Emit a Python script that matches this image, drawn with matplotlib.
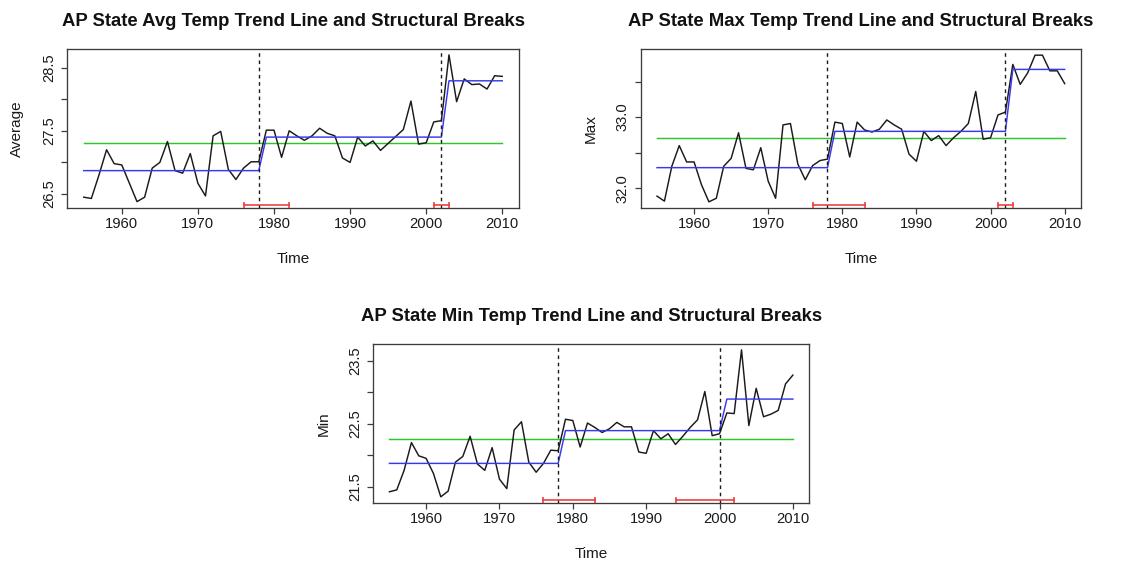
import matplotlib
matplotlib.use("Agg")
import matplotlib.pyplot as plt
import numpy as np

plt.rcParams['font.family'] = ['Liberation Sans', 'DejaVu Sans']

years = list(range(1955, 2011))

avg_values = [26.45, 26.43, 26.80, 27.20, 26.98, 26.96, 26.67, 26.38, 26.45, 26.91,
              27.00, 27.33, 26.87, 26.83, 27.14, 26.67, 26.47, 27.42, 27.49, 26.89,
              26.73, 26.91, 27.01, 27.01, 27.51, 27.51, 27.08, 27.50, 27.42, 27.35,
              27.42, 27.54, 27.46, 27.42, 27.07, 27.00, 27.40, 27.26, 27.34, 27.19,
              27.30, 27.41, 27.52, 27.97, 27.29, 27.31, 27.64, 27.66, 28.70, 27.96,
              28.32, 28.23, 28.24, 28.16, 28.37, 28.36]

max_values = [31.89, 31.82, 32.31, 32.60, 32.37, 32.37, 32.05, 31.81, 31.86, 32.31,
              32.42, 32.78, 32.28, 32.26, 32.57, 32.10, 31.86, 32.89, 32.91, 32.34,
              32.12, 32.32, 32.39, 32.41, 32.93, 32.91, 32.44, 32.93, 32.82, 32.79,
              32.83, 32.96, 32.89, 32.83, 32.48, 32.38, 32.80, 32.67, 32.74, 32.60,
              32.71, 32.80, 32.91, 33.36, 32.69, 32.71, 33.03, 33.07, 33.74, 33.46,
              33.62, 33.87, 33.87, 33.65, 33.65, 33.47]

min_values = [21.42, 21.45, 21.76, 22.20, 21.99, 21.95, 21.71, 21.34, 21.43, 21.89,
              21.98, 22.30, 21.86, 21.76, 22.12, 21.62, 21.47, 22.40, 22.53, 21.89,
              21.73, 21.87, 22.08, 22.07, 22.57, 22.55, 22.13, 22.51, 22.44, 22.36,
              22.42, 22.52, 22.45, 22.45, 22.05, 22.03, 22.39, 22.26, 22.34, 22.17,
              22.30, 22.44, 22.56, 23.01, 22.31, 22.34, 22.67, 22.66, 23.67, 22.47,
              23.06, 22.61, 22.65, 22.71, 23.13, 23.27]

avg_breaks = [1978, 2002]
avg_levels = [26.87, 27.40, 28.29]
avg_mean = 27.30
avg_ci = [(1976, 1982), (2001, 2003)]

max_breaks = [1978, 2002]
max_levels = [32.29, 32.80, 33.67]
max_mean = 32.71
max_ci = [(1976, 1983), (2001, 2003)]

min_breaks = [1978, 2000]
min_levels = [21.87, 22.39, 22.89]
min_mean = 22.25
min_ci = [(1976, 1983), (1994, 2002)]

titles = ["AP State Avg Temp Trend Line and Structural Breaks",
          "AP State Max Temp Trend Line and Structural Breaks",
          "AP State Min Temp Trend Line and Structural Breaks"]
ylabels = ["Average", "Max", "Min"]
xticks = [1960, 1970, 1980, 1990, 2000, 2010]
avg_yticks = [26.5, 27.0, 27.5, 28.0, 28.5]
max_yticks = [32.0, 32.5, 33.0, 33.5]
min_yticks = [21.5, 22.0, 22.5, 23.0, 23.5]
avg_ylabels_shown = ["26.5", "", "27.5", "", "28.5"]
max_ylabels_shown = ["32.0", "", "33.0", ""]
min_ylabels_shown = ["21.5", "", "22.5", "", "23.5"]

W, H = 1146, 564
fig = plt.figure(figsize=(W / 100, H / 100), dpi=100)

# axes boxes in pixels: (x0, x1, ytop, ybottom)
boxes = [(67, 519, 49, 207.5), (640.7, 1081, 49.3, 207.7), (373.3, 809, 344, 502.7)]
title_baselines = [26, 26, 320.7]

spine_col = '#3c3c3c'
blue = '#3838EE'
green = '#2FC42F'
red = '#EE3A3A'

panels = [
    (avg_values, avg_breaks, avg_levels, avg_mean, avg_ci, avg_yticks, avg_ylabels_shown),
    (max_values, max_breaks, max_levels, max_mean, max_ci, max_yticks, max_ylabels_shown),
    (min_values, min_breaks, min_levels, min_mean, min_ci, min_yticks, min_ylabels_shown),
]

yr = np.array(years)
for i, (vals, brks, levels, mu, ci, yt, ytl) in enumerate(panels):
    x0, x1, yt0, yb0 = boxes[i]
    ax = fig.add_axes([x0 / W, 1 - yb0 / H, (x1 - x0) / W, (yb0 - yt0) / H])
    v = np.array(vals)
    # R-style 4% range extension
    dx = (yr.max() - yr.min()) * 0.04
    dy = (v.max() - v.min()) * 0.04
    ax.set_xlim(yr.min() - dx, yr.max() + dx)
    ax.set_ylim(v.min() - dy, v.max() + dy)

    # fitted segment levels for each year
    seg = np.searchsorted(np.array(brks), yr, side='left')
    fitted = np.array(levels)[seg]

    ax.plot(yr, v, color='#1a1a1a', lw=1.05, zorder=3)
    ax.plot(yr, fitted, color=blue, lw=1.05, zorder=4)
    ax.plot([yr[0], yr[-1]], [mu, mu], color=green, lw=1.05, zorder=2)
    for b in brks:
        ax.axvline(b, color='#1a1a1a', lw=1.0, dashes=(2.6, 2.6), zorder=5)
    ylo, yhi = ax.get_ylim()
    at = ylo + (yhi - ylo) / 1.08 * 0.02
    for (c0, c1) in ci:
        ax.plot([c0, c1], [at, at], color=red, lw=1.15, zorder=6, clip_on=False)
        ax.plot([c0, c1], [at, at], color=red, lw=0, marker='|', markersize=5,
                markeredgewidth=1.15, zorder=6, clip_on=False)

    ax.set_xticks(xticks)
    ax.set_xticklabels([str(t) for t in xticks])
    ax.set_yticks(yt)
    ax.set_yticklabels(ytl, rotation=90, va='center')
    ax.tick_params(axis='both', direction='out', length=4.3, width=0.9,
                   color=spine_col, labelsize=10.6, labelcolor='#1a1a1a')
    ax.tick_params(axis='x', pad=2.3)
    ax.tick_params(axis='y', pad=3.8)
    for s in ax.spines.values():
        s.set_color(spine_col)
        s.set_linewidth(0.95)

    axw = x1 - x0
    axh = yb0 - yt0
    ax.set_xlabel("Time", fontsize=11, color='#1a1a1a')
    ax.xaxis.label.set_va('center')
    ax.xaxis.set_label_coords(0.5, -(259 - 207.5) / axh)
    ax.set_ylabel(ylabels[i], fontsize=11, color='#1a1a1a')
    ax.yaxis.label.set_va('center')
    ax.yaxis.set_label_coords(-50 / axw, 0.5)

    fig.text((x0 + x1) / 2 / W, 1 - title_baselines[i] / H, titles[i],
             ha='center', va='baseline', fontsize=13.3, fontweight='bold',
             color='#111111')

fig.savefig("out.png", dpi=100)
